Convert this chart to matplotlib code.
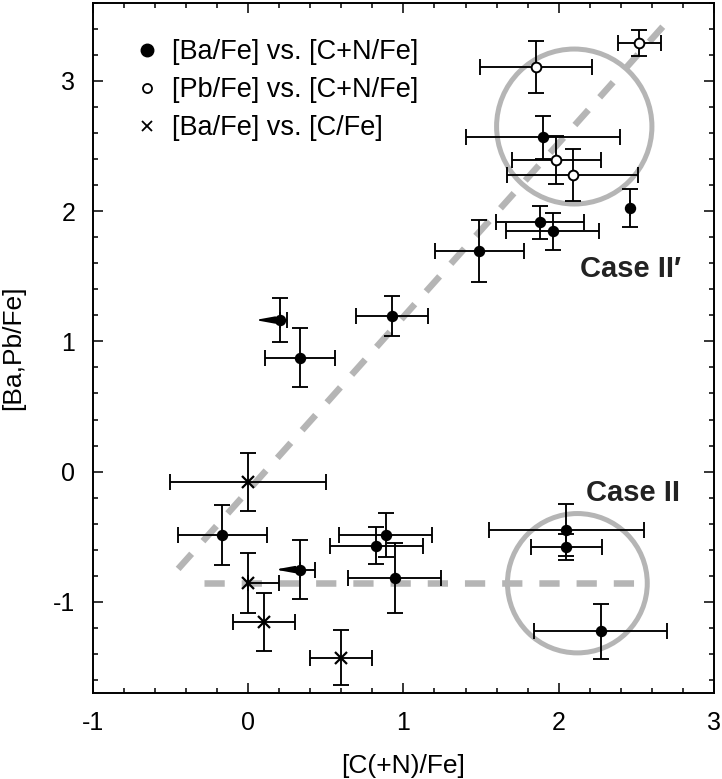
import matplotlib
matplotlib.use('Agg')
import matplotlib.pyplot as plt
from matplotlib.lines import Line2D
from matplotlib.patches import Ellipse
import numpy as np

plt.rcParams.update({
    'font.family': ['Liberation Sans', 'DejaVu Sans'],
    'xtick.direction': 'in',
    'ytick.direction': 'in',
    'xtick.top': True,
    'ytick.right': True,
})

# [Ba/Fe] vs. [C+N/Fe]  (filled circles)
ba_cn_x = [-0.165, 0.826, 0.886, 0.945, 2.05, 2.05, 2.27, 0.334, 0.927, 1.49, 1.88, 1.96, 1.90, 2.458]
ba_cn_y = [-0.49, -0.569, -0.487, -0.818, -0.446, -0.576, -1.226, 0.876, 1.197, 1.694, 1.916, 1.845, 2.566, 2.026]
ba_cn_xerr = [0.285, 0.30, 0.30, 0.30, 0.50, 0.23, 0.43, 0.225, 0.23, 0.285, 0.285, 0.30, 0.495, 0.0]
ba_cn_yerr = [0.23, 0.14, 0.17, 0.27, 0.20, 0.10, 0.21, 0.228, 0.155, 0.24, 0.127, 0.14, 0.165, 0.147]

# upper limits in [C+N/Fe] (filled circles with arrow)
lim_x = [0.334, 0.205]
lim_y = [-0.752, 1.164]
lim_xerr_hi = [0.10, 0.045]
lim_yerr = [0.23, 0.17]

# [Pb/Fe] vs. [C+N/Fe]  (open circles)
pb_x = [1.855, 2.52, 1.985, 2.09]
pb_y = [3.11, 3.29, 2.393, 2.28]
pb_xerr = [0.36, 0.14, 0.285, 0.42]
pb_yerr = [0.20, 0.10, 0.185, 0.20]

# [Ba/Fe] vs. [C/Fe]  (crosses)
ba_c_x = [0.0, 0.0, 0.10, 0.60]
ba_c_y = [-0.08, -0.857, -1.155, -1.43]
ba_c_xerr_lo = [0.50, 0.0, 0.20, 0.20]
ba_c_xerr_hi = [0.50, 0.20, 0.20, 0.20]
ba_c_yerr = [0.22, 0.23, 0.22, 0.21]

# guide lines and circles
diag_x = [-0.45, 2.68]
diag_y = [-0.747, 3.43]
flat_x = [-0.285, 2.55]
flat_y = [-0.857, -0.857]
circ_x = [2.10, 2.12]
circ_y = [2.65, -0.857]
circ_w = [1.0, 0.9]
circ_h = [1.19, 1.07]
case_labels = ['Case II\u2032', 'Case II']
case_x = [2.46, 2.475]
case_y = [1.555, -0.166]

GRAY = '#b5b5b5'

fig = plt.figure(figsize=(7.22, 7.79), dpi=100)
ax = fig.add_axes([0.1284, 0.1104, 0.8606, 0.886])

dash_kw = dict(color=GRAY, lw=4.7, dashes=(3.1, 2.6), solid_capstyle='butt', zorder=1)
ax.plot(diag_x, diag_y, **dash_kw)
ax.plot(flat_x, flat_y, **dash_kw)
for cx, cy, w, h in zip(circ_x, circ_y, circ_w, circ_h):
    ax.add_patch(Ellipse((cx, cy), w, h, fill=False, ec=GRAY, lw=3.6, zorder=1))

eb_kw = dict(fmt='none', ecolor='black', elinewidth=1.35, capsize=5.5, capthick=1.35, zorder=2)
ax.errorbar(ba_cn_x, ba_cn_y, xerr=ba_cn_xerr, yerr=ba_cn_yerr, **eb_kw)
ax.errorbar(lim_x, lim_y, xerr=[np.zeros(len(lim_x)), lim_xerr_hi], yerr=lim_yerr, **eb_kw)
ax.errorbar(pb_x, pb_y, xerr=pb_xerr, yerr=pb_yerr, **eb_kw)
ax.errorbar(ba_c_x, ba_c_y, xerr=[ba_c_xerr_lo, ba_c_xerr_hi], yerr=ba_c_yerr, **eb_kw)

ax.plot(ba_cn_x + lim_x, ba_cn_y + lim_y, 'o', color='black', ms=7.2, zorder=3)
ax.plot(pb_x, pb_y, 'o', mfc='white', mec='black', mew=1.4, ms=7, zorder=3)
ax.plot(ba_c_x, ba_c_y, 'x', color='black', mew=1.6, ms=8.5, zorder=3)

for x, y in zip(lim_x, lim_y):
    ax.annotate('', xy=(x - 0.16, y), xytext=(x - 0.04, y),
                arrowprops=dict(arrowstyle='-|>,head_length=1.1,head_width=0.2',
                                color='black', lw=1.3, shrinkA=0, shrinkB=0), zorder=3)

for lab, x, y in zip(case_labels, case_x, case_y):
    ax.text(x, y, lab, fontsize=21, fontweight='bold', color='#222222',
            ha='center', va='center', family=['Liberation Sans', 'DejaVu Sans'])

ax.set_xlim(-1, 3)
ax.set_ylim(-1.7, 3.6)
ax.set_xticks([-1, 0, 1, 2, 3])
ax.set_yticks([-1, 0, 1, 2, 3])
ax.set_xticklabels(['-1', '0', '1', '2', '3'])
ax.set_yticklabels(['-1', '0', '1', '2', '3'])
ax.xaxis.set_minor_locator(matplotlib.ticker.MultipleLocator(0.2))
ax.yaxis.set_minor_locator(matplotlib.ticker.MultipleLocator(0.2))
ax.tick_params(which='major', length=7, width=1.1, labelsize=18)
ax.tick_params(axis='x', which='major', pad=13)
ax.tick_params(axis='y', which='major', pad=12.5)
ax.tick_params(which='minor', length=3.5, width=1.1)
for sp in ax.spines.values():
    sp.set_linewidth(1.4)

ax.set_xlabel('[C(+N)/Fe]', fontsize=19, labelpad=14)
ax.set_ylabel('[Ba,Pb/Fe]', fontsize=19, labelpad=20)

handles = [
    Line2D([], [], ls='none', marker='o', color='black', ms=9),
    Line2D([], [], ls='none', marker='o', mfc='white', mec='black', mew=1.3, ms=6.5),
    Line2D([], [], ls='none', marker='x', color='black', mew=1.3, ms=6.5),
]
labels = ['[Ba/Fe] vs. [C+N/Fe]', '[Pb/Fe] vs. [C+N/Fe]', '[Ba/Fe] vs. [C/Fe]']
ax.legend(handles, labels, loc='upper left', bbox_to_anchor=(0.0697, 0.947),
          frameon=False, fontsize=19.5, handlelength=0.8, handletextpad=0.52,
          labelspacing=0.44, borderaxespad=0, borderpad=0)

fig.savefig('out.png', dpi=100)
